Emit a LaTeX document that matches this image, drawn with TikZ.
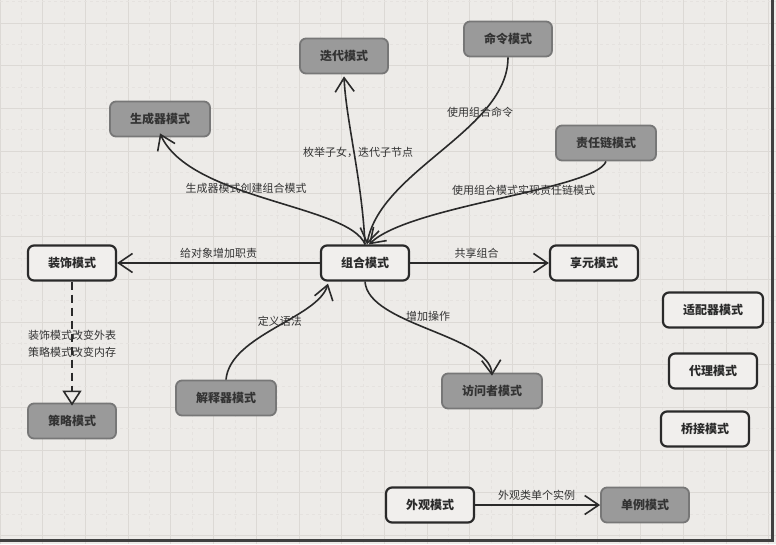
\documentclass[tikz,border=0pt]{standalone}
\usepackage{fontspec}
\newfontfamily\cjk{Noto Sans CJK SC}
\usepackage{tikz}
\usetikzlibrary{arrows.meta,positioning}
\definecolor{paper}{HTML}{EDEBE8}
\definecolor{gridmaj}{HTML}{DCD9D5}
\definecolor{gridmin}{HTML}{E5E2DF}
\definecolor{ink}{HTML}{2A2A2A}
\definecolor{boxfill}{HTML}{F1EFED}
\definecolor{boxgray}{HTML}{9A9A9A}
\definecolor{grayedge}{HTML}{777777}
\definecolor{txt}{HTML}{333333}
\tikzset{
  pattbox/.style={
    rectangle, rounded corners=6pt, draw=ink, fill=boxfill, line width=2.2pt,
    minimum height=35pt, inner xsep=20pt,
    font=\cjk\bfseries\fontsize{12}{14}\selectfont, text=ink
  },
  graybox/.style={
    pattbox, draw=grayedge, fill=boxgray, line width=1.8pt, text=txt
  },
  relarrow/.style={
    -{Straight Barb[length=14pt,width=19pt]}, line width=1.6pt, draw=ink
  },
  edgelabel/.style={
    font=\cjk\fontsize{11}{14}\selectfont, text=txt, inner sep=1pt
  },
}

\begin{document}
\begin{tikzpicture}[x=1pt,y=-1pt]
  \useasboundingbox (0,0) rectangle (776,544);

  % paper and grid
  \fill[paper] (0,0) rectangle (776,544);
  \foreach \gx in {0,...,18}{
    \draw[gridmin, dashed, line width=0.6pt] ({\gx*42.7+21.35},0) -- ({\gx*42.7+21.35},544);
    \draw[gridmaj, line width=0.8pt] ({\gx*42.7},0) -- ({\gx*42.7},544);
  }
  \foreach \gy in {0,...,13}{
    \draw[gridmin, dashed, line width=0.6pt] (0,{\gy*42.7+1.65}) -- (776,{\gy*42.7+1.65});
    \draw[gridmaj, line width=0.8pt] (0,{\gy*42.7-19.7}) -- (776,{\gy*42.7-19.7});
  }
  \draw[line width=2.4pt, black!75] (772.5,0) -- (772.5,540.5) -- (0,540.5);

  % pattern boxes
  \node[pattbox] (composite)   at (365,263) {组合模式};
  \node[pattbox] (decorator)   at (72,263)  {装饰模式};
  \node[pattbox] (flyweight)   at (594,263) {享元模式};
  \node[graybox] (builder)     at (160,119) {生成器模式};
  \node[graybox] (iterator)    at (344,56)  {迭代模式};
  \node[graybox] (command)     at (508,39)  {命令模式};
  \node[graybox] (chain)       at (606,143) {责任链模式};
  \node[graybox] (strategy)    at (72,421)  {策略模式};
  \node[graybox] (interpreter) at (226,398) {解释器模式};
  \node[graybox] (visitor)     at (492,391) {访问者模式};
  \node[pattbox] (adapter)     at (713,310) {适配器模式};
  \node[pattbox] (proxy)       at (713,371) {代理模式};
  \node[pattbox] (bridge)      at (705,429) {桥接模式};
  \node[pattbox] (facade)      at (430,505) {外观模式};
  \node[graybox] (singleton)   at (645,505) {单例模式};

  % straight relations
  \draw[relarrow] (composite) -- (decorator)
    node[edgelabel, midway, above=3pt] (lbl-dec) {给对象增加职责};
  \draw[relarrow] (composite) -- (flyweight)
    node[edgelabel, midway, above=3pt, xshift=-3pt] (lbl-fly) {共享组合};
  \draw[relarrow] (facade) -- (singleton)
    node[edgelabel, midway, above=3pt, xshift=-1pt] (lbl-sgl) {外观类单个实例};
  \draw[ink, line width=1.6pt, dash pattern=on 8pt off 5pt,
        -{Triangle[open, length=15pt, width=19pt]}]
    (decorator.south) -- ([yshift=-3pt]strategy.north)
    node[edgelabel, pos=0.5, align=center, font=\cjk\fontsize{11}{17}\selectfont]
      (lbl-str) {装饰模式改变外表\\策略模式改变内存};

  % curved relations
  \draw[relarrow] (composite.north) .. controls (350,205) and (190,200) .. ([yshift=4pt]builder.south)
    node[edgelabel, pos=0.58, yshift=3pt] (lbl-bld) {生成器模式创建组合模式};
  \draw[relarrow] (composite.north) .. controls (362,180) and (346,120) .. ([yshift=-2pt]iterator.south)
    node[edgelabel, pos=0.5, xshift=4pt] (lbl-itr) {枚举子女，迭代子节点};
  \draw[relarrow] (command.south) .. controls (508,130) and (380,170) .. ([xshift=2pt]composite.north)
    node[edgelabel, pos=0.3, yshift=3pt] (lbl-cmd) {使用组合命令};
  \draw[relarrow] (chain.south) .. controls (595,190) and (410,205) .. ([xshift=4pt]composite.north)
    node[edgelabel, pos=0.42, yshift=3pt] (lbl-chn) {使用组合模式实现责任链模式};
  \draw[relarrow] (composite.south) .. controls (368,325) and (490,335) .. ([yshift=-3pt]visitor.north)
    node[edgelabel, pos=0.33, anchor=west, xshift=6pt] (lbl-vis) {增加操作};
  \draw[relarrow] (interpreter.north) .. controls (230,335) and (318,318) .. ([xshift=-37pt,yshift=-2pt]composite.south)
    node[edgelabel, pos=0.5, xshift=5pt, yshift=6pt] (lbl-int) {定义语法};
\end{tikzpicture}
\end{document}
